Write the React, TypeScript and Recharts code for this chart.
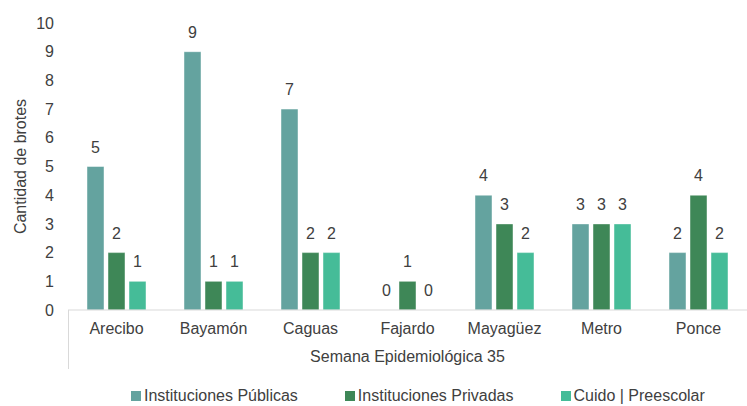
import React from "react";
import { BarChart, Bar, XAxis, YAxis, Legend, LabelList, Label } from "recharts";

const categories = ["Arecibo", "Bayamón", "Caguas", "Fajardo", "Mayagüez", "Metro", "Ponce"];
const publicas = [5, 9, 7, 0, 4, 3, 2];
const privadas = [2, 1, 2, 1, 3, 3, 4];
const cuido = [1, 1, 2, 0, 2, 3, 2];
const yTicks = [0, 1, 2, 3, 4, 5, 6, 7, 8, 9, 10];

const seriesNames = ["Instituciones Públicas", "Instituciones Privadas", "Cuido | Preescolar"];
const colors = ["#64A39F", "#3E8757", "#45BC98"];

const data = categories.map((c, i) => ({
  name: c,
  publicas: publicas[i],
  privadas: privadas[i],
  cuido: cuido[i],
}));

const FONT = "'Liberation Sans', Arial, sans-serif";
const TEXT = "#404040";

const LegendContent = () => (
  <div
    style={{
      display: "flex",
      alignItems: "center",
      paddingLeft: 131,
      height: 20,
      fontFamily: FONT,
      fontSize: 16,
      color: TEXT,
      gap: 47,
    }}
  >
    {seriesNames.map((n, i) => (
      <div key={n} style={{ display: "flex", alignItems: "center", gap: 3 }}>
        <span style={{ width: 10, height: 10, background: colors[i], display: "inline-block" }} />
        <span style={{ whiteSpace: "nowrap", lineHeight: "20px" }}>{n}</span>
      </div>
    ))}
  </div>
);

export default function App() {
  const keys = ["publicas", "privadas", "cuido"];
  return (
    <div style={{ position: "absolute", left: 0, top: 0, width: 747, height: 406, background: "#fff" }}>
      <BarChart
        width={747}
        height={406}
        data={data}
        margin={{ top: 23, right: 0, left: 0, bottom: 16 }}
        barGap={4}
        style={{ fontFamily: FONT }}
      >
        <YAxis
          width={68}
          domain={[0, 10]}
          ticks={yTicks}
          interval={0}
          axisLine={false}
          tickLine={false}
          tickMargin={8}
          tick={{ fill: TEXT, fontSize: 16, fontFamily: FONT }}
        >
          <Label
            value="Cantidad de brotes"
            angle={-90}
            position="center"
            dx={-14}
            style={{ fill: TEXT, fontSize: 16, fontFamily: FONT }}
          />
        </YAxis>
        <XAxis
          dataKey="name"
          height={60}
          interval={0}
          axisLine={{ stroke: "#d9d9d9", strokeWidth: 1 }}
          tickLine={false}
          tickMargin={7}
          tick={{ fill: TEXT, fontSize: 16, fontFamily: FONT }}
        >
          <Label
            value="Semana Epidemiológica 35"
            position="insideBottom"
            offset={8}
            style={{ fill: TEXT, fontSize: 16, fontFamily: FONT }}
          />
        </XAxis>
        <Legend
          verticalAlign="bottom"
          content={<LegendContent />}
          wrapperStyle={{ top: 386, bottom: "auto", left: 0, width: 747, height: 20 }}
        />
        {keys.map((k, i) => (
          <Bar
            key={k}
            dataKey={k}
            name={seriesNames[i]}
            fill={colors[i]}
            barSize={17}
            minPointSize={(v: number) => (v === 0 ? 0.01 : 0)}
            stroke="rgba(255,255,255,0.45)"
            strokeWidth={1}
            isAnimationActive={false}
          >
            <LabelList
              dataKey={k}
              position="top"
              offset={14}
              style={{ fill: TEXT, fontSize: 16, fontFamily: FONT }}
            />
          </Bar>
        ))}
      </BarChart>
      <div
        style={{
          position: "absolute",
          left: 68,
          top: 310,
          width: 1,
          height: 59,
          background: "#d9d9d9",
        }}
      />
    </div>
  );
}
